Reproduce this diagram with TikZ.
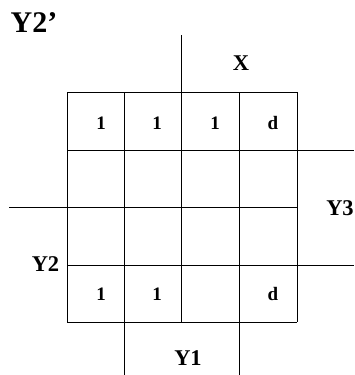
\documentclass[tikz,border=0pt]{standalone}
\usepackage{fontspec}
\setmainfont{Liberation Serif}
\begin{document}
\begin{tikzpicture}[x=1pt,y=-1pt,
  gridline/.style={draw=black,line width=0.9pt},
  cellval/.style={font=\bfseries\fontsize{19}{19}\selectfont,inner sep=0pt},
  varlabel/.style={font=\bfseries\fontsize{22.5}{22.5}\selectfont,inner sep=0pt},
  titlelabel/.style={font=\bfseries\fontsize{30}{30}\selectfont,inner sep=0pt}]
\useasboundingbox (0,0) rectangle (354,375);
% grid
\foreach \gx in {67,124,181,239,297} \draw[gridline] (\gx,92) -- (\gx,322);
\foreach \gy in {92,150,207,265,322} \draw[gridline] (67,\gy) -- (297,\gy);
% extensions
\draw[gridline] (181,35) -- (181,92);
\draw[gridline] (297,150) -- (354,150);
\draw[gridline] (297,265) -- (354,265);
\draw[gridline] (9,207) -- (67,207);
\draw[gridline] (124,322) -- (124,375);
\draw[gridline] (239,322) -- (239,375);
% labels
\node[titlelabel] (title) at (34,23) {Y2’};
\node[varlabel] (lx) at (241,63) {X};
\node[varlabel] (ly3) at (340,208) {Y3};
\node[varlabel] (ly2) at (45.5,264.5) {Y2};
\node[varlabel] (ly1) at (188,358) {Y1};
% cell values
\node[cellval] (c11) at (101,123) {1};
\node[cellval] (c12) at (157,123) {1};
\node[cellval] (c13) at (215,123) {1};
\node[cellval] (c14) at (273,123) {d};
\node[cellval] (c41) at (101,294) {1};
\node[cellval] (c42) at (157,294) {1};
\node[cellval] (c44) at (273,294) {d};
\end{tikzpicture}
\end{document}
